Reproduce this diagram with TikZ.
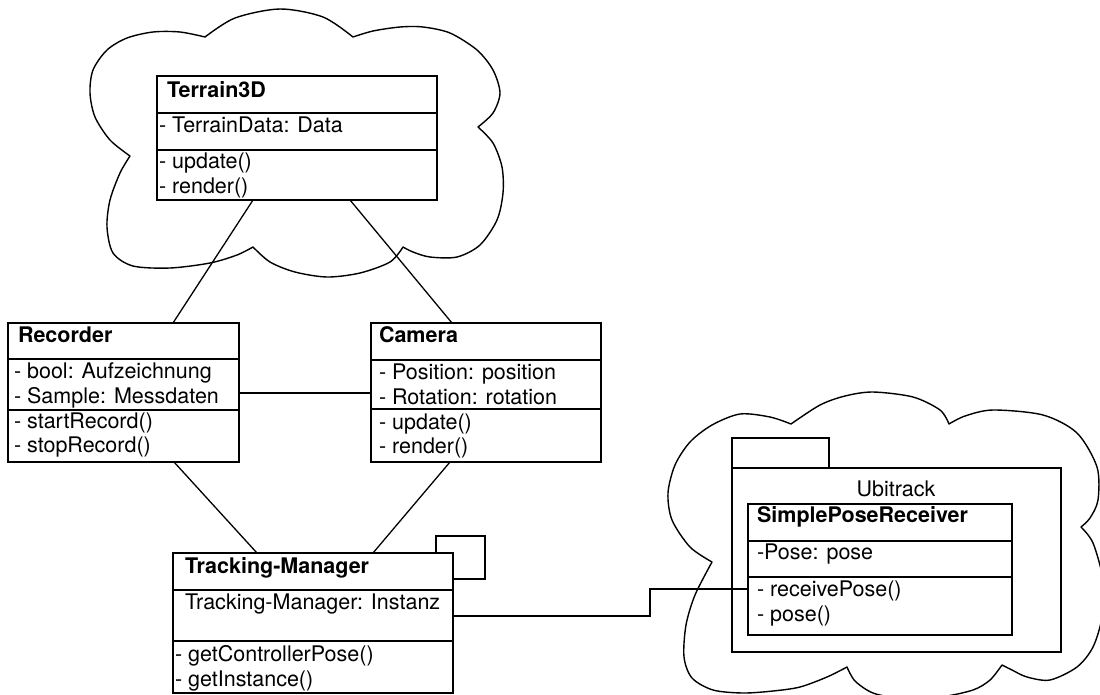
\documentclass[tikz,border=0pt]{standalone}
\usepackage{fontspec}
\setmainfont{TeX Gyre Heros}
\usetikzlibrary{calc}
\tikzset{
  umlbox/.style={draw, line width=1.5pt, fill=white, inner sep=0pt, outer sep=0pt, anchor=north west},
  txt/.style={anchor=base west, inner sep=0pt, outer sep=0pt, font=\fontsize{21.5}{25}\selectfont},
  hdr/.style={anchor=base west, inner sep=0pt, outer sep=0pt, font=\fontsize{21.5}{25}\selectfont\bfseries},
  ctxt/.style={anchor=base, inner sep=0pt, outer sep=0pt, font=\fontsize{21.5}{25}\selectfont},
  conn/.style={line width=1.3pt},
  divline/.style={line width=1.5pt},
  cloudline/.style={line width=1.4pt, line join=round},
}
\begin{document}
\begin{tikzpicture}[x=1pt,y=-1pt]
\useasboundingbox (0,0) rectangle (1100,694);
\clip (0,0) rectangle (1100,694);
\fill[white] (0,0) rectangle (1100,694);

% ---- top cloud
\draw[cloudline]
  plot[smooth] coordinates {(205,37) (235,18) (280,9) (323,17) (353,37)}
  -- plot[smooth] coordinates {(353,37) (373,31) (400,27) (423,27) (450,33) (477,50) (493,70) (500,93) (493,113) (478,127)}
  -- plot[smooth] coordinates {(478,127) (493,143) (502,167) (503,193) (497,220) (480,245) (457,257) (430,257) (413,252) (403,247)}
  -- plot[smooth] coordinates {(403,247) (390,262) (360,273) (327,277) (295,272) (270,262) (253,247)}
  -- plot[smooth] coordinates {(253,247) (237,255) (210,263) (170,268) (133,266) (113,253) (107,227) (110,200) (120,173) (130,156)}
  -- plot[smooth] coordinates {(130,156) (110,140) (95,117) (90,93) (93,70) (107,50) (127,38) (153,32) (180,32) (205,37)}
  -- cycle;

% ---- right cloud
\draw[cloudline]
  plot[smooth] coordinates {(712,562) (690,547) (672,520) (668,493) (675,465) (690,442) (712,425) (740,414) (770,417) (791,424)}
  -- plot[smooth] coordinates {(791,424) (820,405) (845,396) (873,392) (913,397) (940,410) (949,424)}
  -- plot[smooth] coordinates {(949,424) (965,416) (993,410) (1043,415) (1077,433) (1097,467) (1098,500) (1090,518) (1081,527)}
  -- plot[smooth] coordinates {(1081,527) (1093,543) (1103,580) (1102,617) (1093,647) (1077,667) (1050,680) (1027,677) (1012,670) (1002,665)}
  -- plot[smooth] coordinates {(1002,665) (990,680) (973,690) (940,697) (900,698) (873,693) (855,681) (847,667)}
  -- plot[smooth] coordinates {(847,667) (827,677) (800,687) (773,691) (743,693) (713,690) (692,678) (684,657) (686,625) (695,595) (712,562)}
  -- cycle;

% ---- Terrain3D
\node[umlbox, minimum width=280pt, minimum height=124pt] (terrain) at (157,76) {};
\draw[divline] (157,113) -- (437,113);
\draw[divline] (157,150) -- (437,150);
\node[hdr] (terrainH) at (167,97) {Terrain3D};
\node[txt] (terrainA) at (159,132) {- TerrainData: Data};
\node[txt] (terrainM1) at (159,168) {- update()};
\node[txt] (terrainM2) at (159,193) {- render()};

% ---- Recorder
\node[umlbox, minimum width=231pt, minimum height=139pt] (recorder) at (8,323) {};
\draw[divline] (8,359) -- (239,359);
\draw[divline] (8,410) -- (239,410);
\node[hdr] (recH) at (18,342) {Recorder};
\node[txt] (recA1) at (14,378) {- bool: Aufzeichnung};
\node[txt] (recA2) at (14,403) {- Sample: Messdaten};
\node[txt] (recM1) at (14,428) {- startRecord()};
\node[txt] (recM2) at (14,452) {- stopRecord()};

% ---- Camera
\node[umlbox, minimum width=230pt, minimum height=139pt] (camera) at (371,323) {};
\draw[divline] (371,360) -- (601,360);
\draw[divline] (371,409) -- (601,409);
\node[hdr] (camH) at (379,342) {Camera};
\node[txt] (camA1) at (379,379) {- Position: position};
\node[txt] (camA2) at (379,404) {- Rotation: rotation};
\node[txt] (camM1) at (379,429) {- update()};
\node[txt] (camM2) at (379,453) {- render()};

% ---- Tracking-Manager
\node[umlbox, minimum width=280pt, minimum height=140pt] (tm) at (173,553) {};
\draw[divline] (173,590) -- (453,590);
\draw[divline] (173,641) -- (453,641);
\node[hdr] (tmH) at (185,573) {Tracking-Manager};
\node[txt] (tmA) at (185,609) {Tracking-Manager: Instanz};
\node[txt] (tmM1) at (175,661) {- getControllerPose()};
\node[txt] (tmM2) at (175,686) {- getInstance()};

% ---- Ubitrack package
\node[umlbox, minimum width=97pt, minimum height=30pt] (pkgtab) at (732,438) {};
\node[umlbox, minimum width=329pt, minimum height=184pt] (pkg) at (732,468) {};
\node[ctxt] (pkgL) at (896,496) {Ubitrack};

% ---- SimplePoseReceiver
\node[umlbox, minimum width=264pt, minimum height=131pt] (spr) at (748,504) {};
\draw[divline] (748,541) -- (1012,541);
\draw[divline] (748,577) -- (1012,577);
\node[hdr] (sprH) at (757,522) {SimplePoseReceiver};
\node[txt] (sprA) at (757,559) {-Pose: pose};
\node[txt] (sprM1) at (757,596) {- receivePose()};
\node[txt] (sprM2) at (757,621) {- pose()};

% ---- connectors
\draw[conn] ($(terrain.south west)+(96,0)$) -- ($(recorder.north west)+(165,0)$);
\draw[conn] ($(terrain.south west)+(193,0)$) -- ($(camera.north west)+(81,0)$);
\draw[conn] ($(recorder.north east)+(0,70)$) -- ($(camera.north west)+(0,70)$);
\draw[conn] ($(recorder.south west)+(166,0)$) -- ($(tm.north west)+(84,0)$);
\draw[conn] ($(camera.south west)+(79,0)$) -- ($(tm.north west)+(200,0)$);
\draw[conn] ($(tm.north east)+(-17,0)$) -- ++(0,-17) -- ++(49,0) -- ++(0,43) -- ($(tm.north east)+(0,26)$);
\draw[conn] ($(tm.north east)+(0,63)$) -- ++(197,0) |- ($(spr.north west)+(0,85)$);
\end{tikzpicture}
\end{document}
